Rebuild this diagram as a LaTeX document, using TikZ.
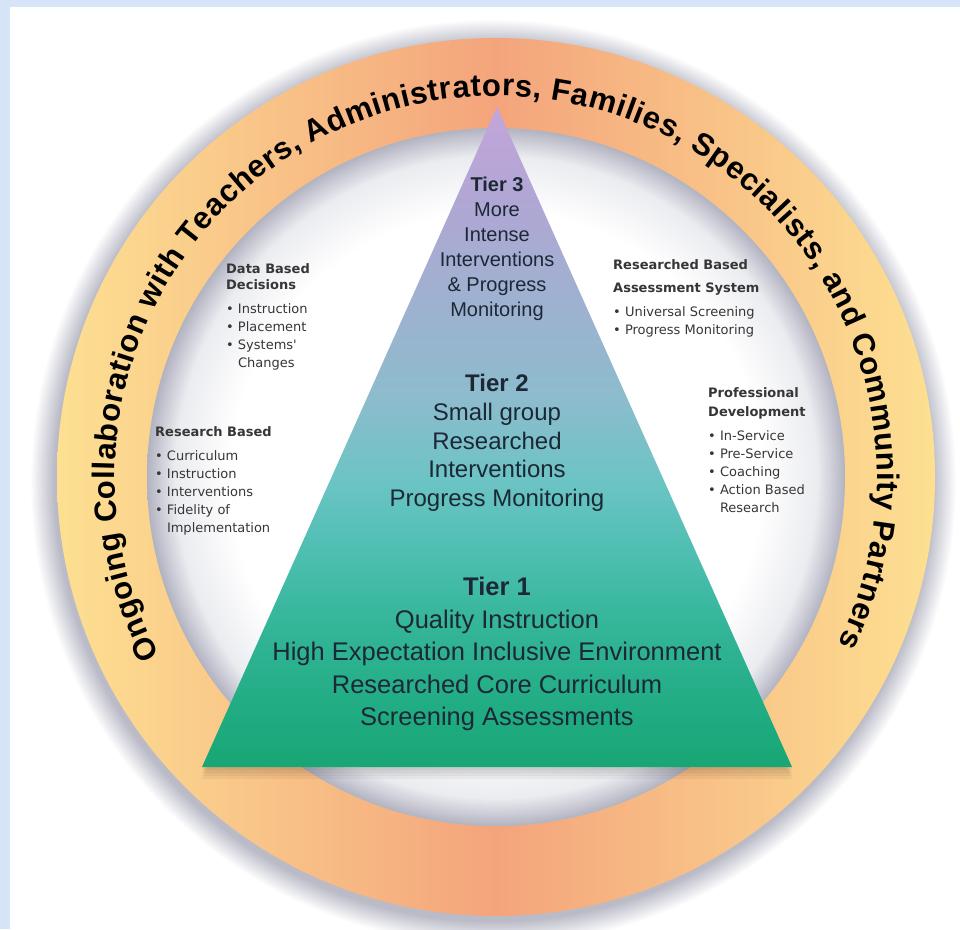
\documentclass[tikz,border=0pt]{standalone}
\usepackage{fontspec}
\setmainfont{Liberation Sans}
\newfontfamily\sidefont{DejaVu Sans}
\usepackage{tikz}
\usetikzlibrary{positioning,decorations.text}
\usepackage{xcolor}
\definecolor{pageblue}{HTML}{D5E5F7}
\definecolor{ringyellow}{HTML}{FDE092}
\definecolor{ringorange}{HTML}{F4A47C}
\definecolor{shadowgray}{HTML}{BABBC7}
\definecolor{innergray}{HTML}{B2B3C1}
\definecolor{innerlight}{HTML}{EBECF0}
\definecolor{tiertext}{HTML}{1C2836}
\definecolor{sidetext}{HTML}{363636}
\definecolor{ta}{HTML}{18A675}
\definecolor{tb}{HTML}{22AD85}
\definecolor{tc}{HTML}{35B699}
\definecolor{td}{HTML}{4BBEB0}
\definecolor{te}{HTML}{6CC4C4}
\definecolor{tf}{HTML}{8CBCCD}
\definecolor{tg}{HTML}{9FB1D0}
\definecolor{th}{HTML}{B0A6D4}
\definecolor{ti}{HTML}{C4A5DB}
\pgfdeclareradialshading{ringshadow}{\pgfpointorigin}{color(0bp)=(shadowgray); color(23.7bp)=(shadowgray); color(25bp)=(white); color(50bp)=(white)}
\pgfdeclareradialshading{innerglow}{\pgfpointorigin}{color(0bp)=(white); color(19bp)=(white); color(23bp)=(innerlight); color(25bp)=(innergray); color(50bp)=(innergray)}
\pgfdeclareverticalshading{tierfill}{100bp}{color(0bp)=(ta); color(25bp)=(ta); color(30.1bp)=(tb); color(36.1bp)=(tc); color(40.7bp)=(td); color(46.7bp)=(te); color(52.8bp)=(tf); color(60.4bp)=(tg); color(68bp)=(th); color(75bp)=(ti); color(100bp)=(ti)}
\newcommand\ringfont{\fontsize{31}{31}\selectfont\bfseries\color{black}}

\begin{document}
\begin{tikzpicture}[x=1pt,y=1pt,
    tiernode/.style={inner sep=0pt,align=center,text=tiertext},
    sidehead/.style={inner sep=0pt,align=left,anchor=north west,text=sidetext,font=\sidefont\bfseries\fontsize{13}{16.5}\selectfont},
    sidelist/.style={inner sep=0pt,align=left,text=sidetext,font=\sidefont\fontsize{13}{18}\selectfont},
    node distance=13pt]
    \useasboundingbox (0,0) rectangle (960,929);
    \fill[pageblue] (0,0) rectangle (960,929);
    \fill[white] (10,0) rectangle (960,922);
    \shade[shading=ringshadow] (493,447) circle[radius=463];
    \shade[left color=ringyellow,right color=ringyellow,middle color=ringorange] (496,452) circle[radius=439];
    \shade[shading=innerglow] (496,452) circle[radius=349];
    \foreach \d in {3,6,9,12}
        \fill[black,opacity=.045,yshift=-\d] (497,822)--(792,162)--(202,162)--cycle;
    \shade[shading=tierfill] (497,822)--(792,162)--(202,162)--cycle;
    \path[decorate,decoration={text along path,text align=fit to path,
        text={|\ringfont|Ongoing Collaboration with Teachers, Administrators, Families, Specialists, and Community Partners}}]
        ([shift={(208:381)}]496,452) arc[start angle=208,end angle=-26,radius=381];
    \node(tierthree)[tiernode,font=\fontsize{20}{25}\selectfont] at (497,680) {\textbf{Tier 3}\\More\\Intense\\Interventions\\\& Progress\\Monitoring};
    \node(tiertwo)[tiernode,font=\fontsize{24}{28.75}\selectfont] at (497,486) {\textbf{Tier 2}\\Small group\\Researched\\Interventions\\Progress Monitoring};
    \node(tierone)[tiernode,font=\fontsize{25.5}{32.5}\selectfont] at (497,275) {\textbf{Tier 1}\\Quality Instruction\\High Expectation Inclusive Environment\\Researched Core Curriculum\\Screening Assessments};
    \node(dbhead)[sidehead] at (226,666) {Data Based\\Decisions};
    \node(dblist)[sidelist,below=13.5pt of dbhead.south west,anchor=north west] {\textbullet\ Instruction\\\textbullet\ Placement\\\textbullet\ Systems'\\\phantom{\textbullet\ }Changes};
    \node(rbhead)[sidehead] at (155,503) {Research Based};
    \node(rblist)[sidelist,below=13.5pt of rbhead.south west,anchor=north west] {\textbullet\ Curriculum\\\textbullet\ Instruction\\\textbullet\ Interventions\\\textbullet\ Fidelity of\\\phantom{\textbullet\ }Implementation};
    \node(rahead)[sidehead] at (613,670) {Researched Based\\[7pt]Assessment System};
    \node(ralist)[sidelist,below=11pt of rahead.south west,anchor=north west] {\textbullet\ Universal Screening\\\textbullet\ Progress Monitoring};
    \node(pdhead)[sidehead] at (708,542) {Professional\\[3pt]Development};
    \node(pdlist)[sidelist,below=11pt of pdhead.south west,anchor=north west] {\textbullet\ In-Service\\\textbullet\ Pre-Service\\\textbullet\ Coaching\\\textbullet\ Action Based\\\phantom{\textbullet\ }Research};
\end{tikzpicture}
\end{document}
